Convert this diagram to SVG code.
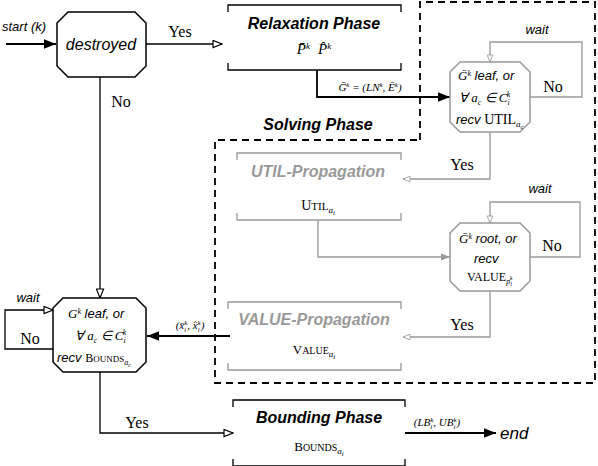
<svg xmlns="http://www.w3.org/2000/svg" width="598" height="466" viewBox="0 0 598 466">
<defs>
<style>
.s{font-family:"Liberation Sans",Arial,sans-serif;font-style:italic}
.h{font-family:"Liberation Sans",Arial,sans-serif;font-style:italic;font-weight:bold;font-size:16px}
.m{font-family:"Liberation Serif","Times New Roman",serif}
.blk{fill:none;stroke:#000;stroke-width:1.3}
.gry{fill:none;stroke:#999;stroke-width:1.3}
.oct{fill:#fff;stroke:#000;stroke-width:1.5}
.octg{fill:#fff;stroke:#999;stroke-width:1.5}
</style>
<marker id="oa" viewBox="0 0 12 10" refX="11" refY="5" markerWidth="11" markerHeight="9" orient="auto" markerUnits="userSpaceOnUse"><path d="M1,1 L11,5 L1,9 z" fill="#fff" stroke="#000" stroke-width="1.3"/></marker>
<marker id="og" viewBox="0 0 12 10" refX="11" refY="5" markerWidth="10" markerHeight="7" orient="auto" markerUnits="userSpaceOnUse"><path d="M1,1 L11,5 L1,9 z" fill="#fff" stroke="#999" stroke-width="1.2"/></marker>
<marker id="fg" viewBox="0 0 10 10" refX="10" refY="5" markerWidth="12" markerHeight="9" orient="auto" markerUnits="userSpaceOnUse"><path d="M0,1 L10,5 L0,9 z" fill="#999"/></marker>
<marker id="fb" viewBox="0 0 10 10" refX="10" refY="5" markerWidth="16" markerHeight="12" orient="auto" markerUnits="userSpaceOnUse"><path d="M0,1 L10,5 L0,9 z" fill="#000"/></marker>
</defs>
<rect width="598" height="466" fill="#fff"/>

<g id="solving-phase">
<path d="M420,140 L420,2 L595,2 L595,383 L215,383 L215,140 Z" fill="none" stroke="#000" stroke-width="1.8" stroke-dasharray="7,5"/>
<text class="h" x="318" y="130" text-anchor="middle">Solving Phase</text>
</g>

<g id="connectors">
<line x1="6" y1="44" x2="56" y2="44" stroke="#000" stroke-width="2.2" marker-end="url(#fb)"/>
<line x1="146" y1="44" x2="222" y2="44" class="blk" marker-end="url(#oa)"/>
<line x1="100" y1="77" x2="100" y2="298" class="blk" marker-end="url(#oa)"/>
<polyline points="317,70 317,97 450,97" stroke="#000" stroke-width="1.8" fill="none" marker-end="url(#fb)"/>
<polyline points="530,97 582,97 582,42 490,42 490,62" class="gry" marker-end="url(#og)"/>
<polyline points="490,132 490,179 403,179" class="gry" marker-end="url(#og)"/>
<polyline points="318,220 318,257 450,257" class="gry" marker-end="url(#fg)"/>
<polyline points="530,257 580,257 580,202 490,202 490,223" class="gry" marker-end="url(#og)"/>
<polyline points="490,291 490,337 403,337" class="gry" marker-end="url(#og)"/>
<line x1="230" y1="336" x2="147" y2="336" stroke="#000" stroke-width="2.2" marker-end="url(#fb)"/>
<polyline points="53,349 5,349 5,310 53,310" class="blk" marker-end="url(#oa)"/>
<polyline points="100,372 100,433 233,433" class="blk" marker-end="url(#oa)"/>
<line x1="405" y1="433" x2="496" y2="433" stroke="#000" stroke-width="2.2" marker-end="url(#fb)"/>
</g>

<g id="labels" fill="#000">
<text class="s" x="2" y="31" font-size="13">start (k)</text>
<text class="m" x="180" y="37" font-size="16" text-anchor="middle">Yes</text>
<text class="m" x="121" y="107" font-size="16" text-anchor="middle">No</text>
<text class="m" x="370" y="91" font-size="11" text-anchor="middle" font-style="italic">Ḡ<tspan dy="-4" font-size="7">k</tspan><tspan dy="4"> = (LN</tspan><tspan dy="-4" font-size="7">k</tspan><tspan dy="4">, Ē</tspan><tspan dy="-4" font-size="7">k</tspan><tspan dy="4">)</tspan></text>
<text class="s" x="537" y="34" font-size="13" text-anchor="middle">wait</text>
<text class="m" x="553" y="92" font-size="16" text-anchor="middle">No</text>
<text class="m" x="462" y="170" font-size="16" text-anchor="middle">Yes</text>
<text class="s" x="540" y="193" font-size="13" text-anchor="middle">wait</text>
<text class="m" x="552" y="251" font-size="16" text-anchor="middle">No</text>
<text class="m" x="462" y="330" font-size="16" text-anchor="middle">Yes</text>
<text class="m" x="190" y="329" font-size="11" text-anchor="middle" font-style="italic">(x̄<tspan dy="3" font-size="7">i</tspan><tspan dx="-2" dy="-7" font-size="7">k</tspan><tspan dy="4">, x̂</tspan><tspan dy="3" font-size="7">i</tspan><tspan dx="-2" dy="-7" font-size="7">k</tspan><tspan dy="4">)</tspan></text>
<text class="s" x="28" y="302" font-size="13" text-anchor="middle">wait</text>
<text class="m" x="30" y="344" font-size="16" text-anchor="middle">No</text>
<text class="m" x="137" y="428" font-size="16" text-anchor="middle">Yes</text>
<text class="m" x="437" y="426" font-size="11" text-anchor="middle" font-style="italic">(LB<tspan dy="3" font-size="7">i</tspan><tspan dx="-2" dy="-7" font-size="7">k</tspan><tspan dy="4">, UB</tspan><tspan dy="3" font-size="7">i</tspan><tspan dx="-2" dy="-7" font-size="7">k</tspan><tspan dy="4">)</tspan></text>
<text class="s" x="500" y="439" font-size="17">end</text>
</g>

<g id="destroyed">
<path class="oct" d="M68,12 L135,12 L146,23 L146,66 L135,77 L68,77 L57,66 L57,23 Z"/>
<text class="s" x="101" y="50" font-size="16" text-anchor="middle">destroyed</text>
</g>

<g id="relaxation-phase">
<path class="blk" d="M228,12 L228,5 L401,5 L401,12 M228,63 L228,70 L401,70 L401,63" stroke-width="1.6"/>
<text class="h" x="314" y="29" text-anchor="middle">Relaxation Phase</text>
<text class="m" x="314" y="54" font-size="15" text-anchor="middle" font-style="italic">P̄<tspan dy="-5" font-size="9">k</tspan><tspan dx="8" dy="5">P̂</tspan><tspan dy="-5" font-size="9">k</tspan></text>
</g>

<g id="util-check">
<path class="octg" d="M460,62 L520,62 L530,72 L530,122 L520,132 L460,132 L450,122 L450,72 Z"/>
<text x="458" y="80" font-size="13"><tspan class="m" font-style="italic">Ḡ</tspan><tspan class="m" font-style="italic" dy="-4" font-size="8">k</tspan><tspan class="s" dy="4"> leaf, or</tspan></text>
<text class="m" x="459" y="102" font-size="13" font-style="italic">∀ a<tspan dy="3" font-size="8">c</tspan><tspan dy="-3"> ∈ C</tspan><tspan dy="3" font-size="8">i</tspan><tspan dx="-3" dy="-8" font-size="8">k</tspan></text>
<text x="456" y="124" font-size="13"><tspan class="s">recv </tspan><tspan class="m" font-size="14">UTIL</tspan><tspan class="m" font-style="italic" dy="3" font-size="9">a</tspan><tspan class="m" font-style="italic" dy="2" font-size="7">c</tspan></text>
</g>

<g id="util-propagation">
<path class="gry" d="M237,160 L237,153 L401,153 L401,160 M237,213 L237,220 L401,220 L401,213"/>
<text class="h" x="318" y="177" text-anchor="middle" fill="#999">UTIL-Propagation</text>
<text class="m" x="318" y="210" font-size="14" text-anchor="middle">U<tspan font-size="11">TIL</tspan><tspan dy="3" font-size="9" font-style="italic">a</tspan><tspan dy="2" font-size="7" font-style="italic">i</tspan></text>
</g>

<g id="value-check">
<path class="octg" d="M460,223 L520,223 L530,233 L530,281 L520,291 L460,291 L450,281 L450,233 Z"/>
<text x="459" y="243" font-size="13"><tspan class="m" font-style="italic">Ḡ</tspan><tspan class="m" font-style="italic" dy="-4" font-size="8">k</tspan><tspan class="s" dy="4"> root, or</tspan></text>
<text class="s" x="474" y="263" font-size="13">recv</text>
<text class="m" x="467" y="281" font-size="12">VALUE<tspan dy="3" font-size="8" font-style="italic">p</tspan><tspan dy="2" font-size="6" font-style="italic">i</tspan><tspan dx="-2" dy="-6" font-size="6" font-style="italic">k</tspan></text>
</g>

<g id="value-propagation">
<path class="gry" d="M228,309 L228,302 L401,302 L401,309 M228,363 L228,370 L401,370 L401,363"/>
<text class="h" x="314" y="325" text-anchor="middle" fill="#999">VALUE-Propagation</text>
<text class="m" x="314" y="354" font-size="13" text-anchor="middle">V<tspan font-size="10">ALUE</tspan><tspan dy="3" font-size="9" font-style="italic">a</tspan><tspan dy="2" font-size="7" font-style="italic">i</tspan></text>
</g>

<g id="bounds-check">
<path class="oct" d="M63,298 L136,298 L146,308 L146,362 L136,372 L63,372 L53,362 L53,308 Z"/>
<text x="68" y="318" font-size="13"><tspan class="m" font-style="italic">G</tspan><tspan class="m" font-style="italic" dy="-4" font-size="8">k</tspan><tspan class="s" dy="4">  leaf, or</tspan></text>
<text class="m" x="75" y="340" font-size="13" font-style="italic">∀ a<tspan dy="3" font-size="8">c</tspan><tspan dy="-3"> ∈ C</tspan><tspan dy="3" font-size="8">i</tspan><tspan dx="-3" dy="-8" font-size="8">k</tspan></text>
<text x="57" y="362" font-size="13"><tspan class="s">recv </tspan><tspan class="m" font-size="12">B</tspan><tspan class="m" font-size="9">OUNDS</tspan><tspan class="m" font-style="italic" dy="3" font-size="8">a</tspan><tspan class="m" font-style="italic" dy="2" font-size="6">c</tspan></text>
</g>

<g id="bounding-phase">
<path class="blk" d="M233,407 L233,400 L405,400 L405,407 M233,459 L233,466 L405,466 L405,459" stroke-width="1.6"/>
<text class="h" x="319" y="423" text-anchor="middle">Bounding Phase</text>
<text class="m" x="319" y="451" font-size="13" text-anchor="middle">B<tspan font-size="10">OUNDS</tspan><tspan dy="3" font-size="9" font-style="italic">a</tspan><tspan dy="2" font-size="7" font-style="italic">i</tspan></text>
</g>
</svg>
